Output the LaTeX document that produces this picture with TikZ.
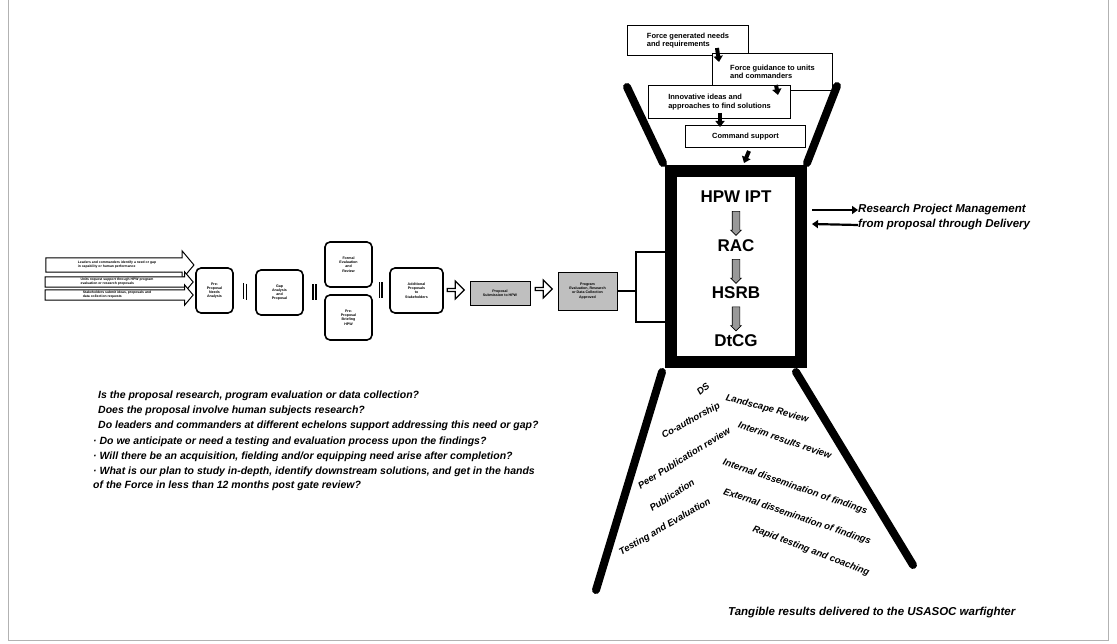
\documentclass[tikz,border=0pt]{standalone}
\usepackage{fontspec}
\setmainfont{Liberation Sans}
\usetikzlibrary{shapes.arrows,calc,arrows.meta}
\begin{document}
\begin{tikzpicture}[x=1pt,y=-1pt,
  funnel/.style={line width=8pt,line cap=round},
  topbox/.style={draw,line width=1pt,fill=white,align=left,font=\fontsize{7.5}{8.5}\selectfont\bfseries,inner sep=3pt,anchor=north west},
  flowbox/.style={draw,line width=1.6pt,rounded corners=5pt,fill=white,align=center,font=\fontsize{3.6}{4.2}\selectfont\bfseries,inner sep=1pt},
  grayb/.style={draw,line width=0.8pt,fill=black!25,align=center,font=\fontsize{3.6}{4.2}\selectfont\bfseries,inner sep=1.5pt},
  blk/.style={-{Triangle[length=6pt,width=9pt]},line width=4pt},
  hpwtext/.style={font=\fontsize{17}{19}\selectfont\bfseries},
  grayarrow/.style={single arrow,draw,fill=black!40,line width=0.6pt,rotate=-90,minimum height=24pt,minimum width=10pt,single arrow head extend=1.5pt,inner xsep=0pt,inner ysep=3.5pt},
  fan/.style={font=\fontsize{9.5}{11}\selectfont\bfseries\itshape,inner sep=0pt},
  q/.style={font=\fontsize{10.5}{12}\selectfont\bfseries\itshape,anchor=west,inner sep=0pt},
  inarrow/.style={single arrow,draw,line width=1pt,fill=white,minimum height=148pt,single arrow head extend=5pt,single arrow tip angle=100,inner sep=1pt,align=left,font=\fontsize{3.4}{4}\selectfont\bfseries},
  hollow/.style={single arrow,draw,line width=1.2pt,fill=white,minimum height=17pt,minimum width=18pt,single arrow head extend=3pt,inner sep=0pt},
  sep/.style={line width=1.4pt}]
\useasboundingbox (0,0) rectangle (1117,644);
% scan border
\draw[black!30,line width=0.6pt] (8,0) -- (8,640) -- (1108,640) -- (1108,0);

% top boxes
\node[topbox,minimum width=121pt,minimum height=30pt] (A) at (627,25) {Force generated needs\\and requirements};
\node[topbox,minimum width=120pt,minimum height=37pt] (B) at (712,53) {Force guidance to units\\and commanders};
\node[topbox,minimum width=142pt,minimum height=33pt] (C) at (648,85) {Innovative ideas and\\approaches to find solutions};
\node[topbox,minimum width=120pt,minimum height=22pt,align=center,anchor=north west] (D) at (685,125) {Command support};

% HPW box
\node[draw,line width=12pt,minimum width=130pt,minimum height=191pt,inner sep=0pt] (H) at (736,266.5) {};
\node[hpwtext] (hpw) at (736,197) {HPW IPT};
\node[hpwtext] (rac) at (736,246) {RAC};
\node[hpwtext] (hsrb) at (736,293) {HSRB};
\node[hpwtext] (dtcg) at (736,341) {DtCG};
\node[grayarrow] (g1) at ($(hpw)!0.5!(rac)$) {};
\node[grayarrow] (g2) at ($(rac)!0.5!(hsrb)$) {};
\node[grayarrow] (g3) at ($(hsrb)!0.5!(dtcg)$) {};

% small black arrows between top boxes
\draw[blk] ($(A.south west)+(90,-8)$) -- ($(A.south west)+(92,6)$);
\draw[blk] ($(B.south west)+(64,-6)$) -- ($(B.south west)+(66,4)$);
\draw[blk] ($(C.south west)+(72,-6)$) -- ($(C.south west)+(72,8)$);
\draw[blk] ($(D.south west)+(64,3)$) -- ($(H.north)+(8,-2)$);

% funnel lines
\coordinate (tl1) at (627,87); \coordinate (tl2) at (663,163);
\coordinate (tr1) at (837,86); \coordinate (tr2) at (807,163);
\coordinate (bl1) at (662,372); \coordinate (bl2) at (596,590);
\coordinate (br1) at (796,372); \coordinate (br2) at (913,565);
\draw[funnel] (tl1) -- (tl2);
\draw[funnel] (tr1) -- (tr2);
\draw[funnel] (bl1) -- (bl2);
\draw[funnel] (br1) -- (br2);

% right side arrows
\node[font=\fontsize{11.5}{13}\selectfont\bfseries\itshape,anchor=west,inner sep=0pt] (rpm) at (858,210) {Research Project Management};
\node[font=\fontsize{11.5}{13}\selectfont\bfseries\itshape,anchor=west,inner sep=0pt] (fpd) at (858,225) {from proposal through Delivery};
\coordinate (r1a) at (812,210); \coordinate (r2a) at (812,224);
\draw[-{Triangle[length=6pt,width=8pt]},line width=2.2pt] (r1a) -- (rpm.west);
\draw[-{Triangle[length=6pt,width=8pt]},line width=2.2pt] (fpd.west) -- (r2a);

% left chain
\node[inarrow,minimum width=28pt] (a1) at (117,265) {Leaders and commanders identify a need or gap\\in capability or human performance};
\node[inarrow,minimum width=20pt] (a2) at (117,282) {Units request support through HPW program\\evaluation or research proposals};
\node[inarrow,minimum width=20pt] (a3) at (117,295) {Stakeholders submit ideas, proposals and\\data collection requests};

\node[flowbox,minimum width=37pt,minimum height=45pt] (b1) at (214.5,290.5) {Pre-\\Proposal\\Needs\\Analysis};
\node[flowbox,minimum width=47pt,minimum height=45pt] (b2) at (279.5,292.5) {Gap\\Analysis\\and\\Proposal};
\node[flowbox,minimum width=47pt,minimum height=45pt] (b3) at (348.5,264.5) {Formal\\Evaluation\\and\\Review};
\node[flowbox,minimum width=47pt,minimum height=45pt] (b4) at (348.5,317.5) {Pre-\\Proposal\\Briefing\\HPW};
\node[flowbox,minimum width=53pt,minimum height=45pt] (b5) at (416.5,290.5) {Additional\\Proposals\\to\\Stakeholders};
\node[hollow] (h1) at (455,290) {};
\node[grayb,minimum width=60pt,minimum height=24pt] (b6) at (500,293) {Proposal\\Submission to HPW};
\node[hollow] (h2) at (543,289) {};
\node[grayb,minimum width=59pt,minimum height=38pt] (b7) at (587.5,291) {Program\\Evaluation, Research\\or Data Collection\\Approved};

% separators
\draw[sep] ($(b1.east)!0.45!(b2.west)+(0,-8)$) -- ++(0,16);
\draw[sep] ($(b1.east)!0.6!(b2.west)+(0,-8)$) -- ++(0,16);
\draw[sep] ($(b2.east)!0.45!(b3.west|-b2.east)+(0,-8)$) -- ++(0,16);
\draw[sep] ($(b2.east)!0.6!(b3.west|-b2.east)+(0,-8)$) -- ++(0,16);
\draw[sep] ($(b3.east|-b5.west)!0.4!(b5.west)+(0,-8)$) -- ++(0,16);
\draw[sep] ($(b3.east|-b5.west)!0.55!(b5.west)+(0,-8)$) -- ++(0,16);

% bracket to HPW box
\coordinate (brk) at (636,291);
\draw[line width=2pt] (b7.east) -- (brk);
\draw[line width=1.6pt] (H.west|-0,252) -- (636,252) -- (636,322) -- (H.west|-0,322);

% questions
\node[q] (q1) at (98,396) {Is the proposal research, program evaluation or data collection?};
\node[q] (q2) at (98,411) {Does the proposal involve human subjects research?};
\node[q] (q3) at (98,426) {Do leaders and commanders at different echelons support addressing this need or gap?};
\node[q] (q4) at (93,442) {· Do we anticipate or need a testing and evaluation process upon the findings?};
\node[q] (q5) at (93,457) {· Will there be an acquisition, fielding and/or equipping need arise after completion?};
\node[q] (q6) at (93,472) {· What is our plan to study in-depth, identify downstream solutions, and get in the hands};
\node[q] (q7) at (93,486) {of the Force in less than 12 months post gate review?};

% fan texts
\node[fan,rotate=40] (f0) at (703,389) {DS};
\node[fan,rotate=29] (f1) at (691,421) {Co-authorship};
\node[fan,rotate=32] (f2) at (684,458) {Peer Publication review};
\node[fan,rotate=33] (f3) at (672,495) {Publication};
\node[fan,rotate=30] (f4) at (665,527) {Testing and Evaluation};
\node[fan,rotate=-15] (f5) at (767,409) {Landscape Review};
\node[fan,rotate=-19] (f6) at (785,440) {Interim results review};
\node[fan,rotate=-19] (f7) at (795,487) {Internal dissemination of findings};
\node[fan,rotate=-19] (f8) at (797,517) {External dissemination of findings};
\node[fan,rotate=-21] (f9) at (811,551) {Rapid testing and coaching};

% caption
\node[font=\fontsize{11.5}{13}\selectfont\bfseries\itshape,anchor=west,inner sep=0pt] (cap) at (728,613) {Tangible results delivered to the USASOC warfighter};
\end{tikzpicture}
\end{document}
